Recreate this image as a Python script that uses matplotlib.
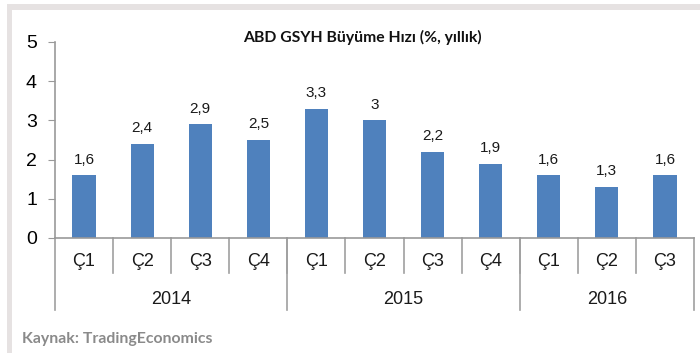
import matplotlib
matplotlib.use("Agg")
import matplotlib.pyplot as plt
from matplotlib.patches import Rectangle
from matplotlib import font_manager

# quarterly US GDP growth, annualised
quarters = ["Ç1", "Ç2", "Ç3", "Ç4", "Ç1", "Ç2", "Ç3", "Ç4", "Ç1", "Ç2", "Ç3"]
years = ["2014", "2015", "2016"]
quarters_per_year = [4, 4, 3]
growth = [1.6, 2.4, 2.9, 2.5, 3.3, 3.0, 2.2, 1.9, 1.6, 1.3, 1.6]
value_labels = ["1,6", "2,4", "2,9", "2,5", "3,3", "3", "2,2", "1,9", "1,6", "1,3", "1,6"]

names = {f.name for f in font_manager.fontManager.ttflist}
narrow = "Liberation Sans Narrow" if "Liberation Sans Narrow" in names else "Liberation Sans"

W, H = 700, 353
fig = plt.figure(figsize=(W / 100, H / 100), dpi=100)
fig.patch.set_facecolor("white")

# grey frame strips along top and left
band = "#e6e2e2"
fig.add_artist(Rectangle((7 / W, 0), 5 / W, 1 - 9 / H, transform=fig.transFigure,
                         color=band, lw=0))
fig.add_artist(Rectangle((7 / W, 1 - 10 / H), 1, 6 / H, transform=fig.transFigure,
                         color=band, lw=0))

x0, x1 = 55, 694
y_top, y_bot = 42, 238
ax = fig.add_axes([x0 / W, 1 - y_bot / H, (x1 - x0) / W, (y_bot - y_top) / H])

n = len(growth)
xs = list(range(n))
ax.bar(xs, growth, width=0.4, color="#4f81bd", zorder=2)
for x, v, t in zip(xs, growth, value_labels):
    ax.text(x, v + 0.22, t, ha="center", va="bottom", fontsize=11,
            family=narrow, color="#1a1a1a")

ax.set_xlim(-0.5, n - 0.5)
ax.set_ylim(0, 5)
ax.set_yticks(range(6))
ax.set_yticklabels([str(i) for i in range(6)], family=narrow, fontsize=14)
ax.tick_params(axis="y", length=5, color="#999999", pad=8)
ax.set_xticks([])
for s in ["top", "right"]:
    ax.spines[s].set_visible(False)
for s in ["left", "bottom"]:
    ax.spines[s].set_color("#999999")
    ax.spines[s].set_linewidth(1.2)

axh = y_bot - y_top
def fy(py):
    return (y_bot - py) / axh

tr = ax.get_xaxis_transform()
sep = "#a0a0a0"
# quarter labels and short separators
for i, q in enumerate(quarters):
    ax.text(i, fy(262), q, transform=tr, ha="center", va="center",
            fontsize=13, family=narrow, color="#1a1a1a")
    if i > 0:
        ax.plot([i - 0.5, i - 0.5], [0, fy(273)], transform=tr, color=sep,
                lw=1.2, clip_on=False)

# year labels and long separators
start = 0
ax.plot([-0.5, -0.5], [0, fy(310)], transform=tr, color=sep, lw=1.2, clip_on=False)
for y, k in zip(years, quarters_per_year):
    mid = start + (k - 1) / 2
    ax.text(mid, fy(299), y, transform=tr, ha="center", va="center",
            fontsize=13, family=narrow, color="#1a1a1a")
    end = start + k - 0.5
    ax.plot([end, end], [0, fy(310)], transform=tr, color=sep, lw=1.2, clip_on=False)
    start += k

fig.text(362 / W, 1 - 37 / H, "ABD GSYH Büyüme Hızı (%, yıllık)", ha="center",
         va="center", fontsize=11.3, fontweight="bold", family="Lato", color="#111111")
fig.text(22 / W, 1 - 339 / H, "Kaynak: TradingEconomics", ha="left", va="center",
         fontsize=11.4, fontweight="bold", family="Lato", color="#8a8a8a")

fig.savefig("out.png", dpi=100)
